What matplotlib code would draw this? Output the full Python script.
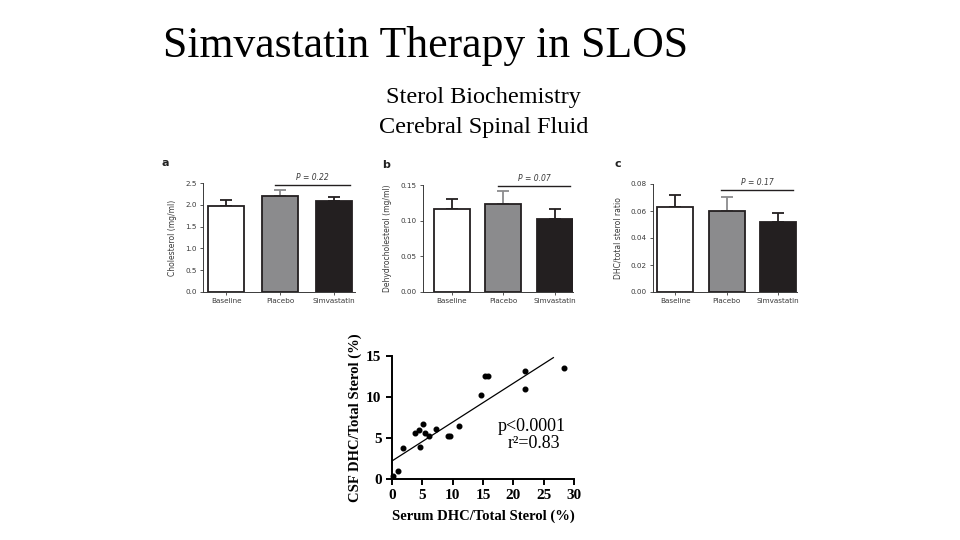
import matplotlib
matplotlib.use("Agg")
import matplotlib.pyplot as plt
import numpy as np

# ---- data ----
groups = ["Baseline", "Placebo", "Simvastatin"]
bar_colors = ["white", "#8b8b8d", "#231f20"]
err_colors = ["#231f20", "#8b8b8d", "#231f20"]

chol_mean = [1.98, 2.20, 2.08]
chol_err = [0.14, 0.15, 0.10]
dhc_mean = [0.117, 0.123, 0.103]
dhc_err = [0.014, 0.019, 0.013]
ratio_mean = [0.063, 0.0597, 0.0515]
ratio_err = [0.0092, 0.0106, 0.0067]

serum_pct = [0.16, 1.0, 1.75, 3.84, 4.39, 4.66, 5.1, 5.5, 6.1, 7.2, 9.16, 9.5,
             11.1, 14.6, 15.4, 15.8, 21.9, 21.9, 28.4]
csf_pct = [0.32, 1.0, 3.77, 5.67, 6.0, 3.9, 6.7, 5.67, 5.27, 6.1, 5.27, 5.19,
           6.5, 10.3, 12.57, 12.57, 13.2, 11.0, 13.5]
fit_x = [0.0, 26.6]
fit_y = [2.2, 14.8]

W, H = 960, 540
fig = plt.figure(figsize=(9.6, 5.4), dpi=100)


def box(left, bottom, width, height):
    # pixel box (top-left origin) -> figure fraction
    return [left / W, (H - bottom) / H, width / W, height / H]


def fx(x):
    return x / W


def fy(y):
    return 1 - y / H


fig.text(fx(426), fy(46), "Simvastatin Therapy in SLOS", family="Liberation Serif",
         fontsize=31.5, ha="center", va="center")
fig.text(fx(483), fy(98), "Sterol Biochemistry", family="Liberation Serif",
         fontsize=17.5, ha="center", va="center")
fig.text(fx(484), fy(127), "Cerebral Spinal Fluid", family="Liberation Serif",
         fontsize=17.5, ha="center", va="center")

gray = "#3a3a3a"
panels = [
    # letter, means, errs, ylim, yticks, fmt, ylabel, pval, p_y, axes box, xlim, width
    ("a", chol_mean, chol_err, 2.5, np.arange(0, 2.51, 0.5), "%.1f",
     "Cholesterol (mg/ml)", "P = 0.22", 2.45, box(203, 292, 152, 109), (-0.43, 2.39), 0.67),
    ("b", dhc_mean, dhc_err, 0.15, np.arange(0, 0.151, 0.05), "%.2f",
     "Dehydrocholesterol (mg/ml)", "P = 0.07", 0.149, box(423, 292, 150, 107), (-0.56, 2.35), 0.7),
    ("c", ratio_mean, ratio_err, 0.08, np.arange(0, 0.081, 0.02), "%.2f",
     "DHC/total sterol ratio", "P = 0.17", 0.0753, box(653, 292, 144, 108), (-0.43, 2.37), 0.7),
]

for letter, means, errs, top, ticks, fmt, ylabel, ptxt, py, rect, xlim, bw in panels:
    ax = fig.add_axes(rect)
    x = np.arange(len(groups))
    for i in range(len(groups)):
        ax.errorbar(x[i], means[i], yerr=[[0], [errs[i]]], fmt="none",
                    ecolor=err_colors[i], elinewidth=1.3, capsize=4, capthick=1.3, zorder=1)
    ax.bar(x, means, width=bw, color=bar_colors, edgecolor="#231f20",
           linewidth=1.3, zorder=2)
    ax.set_xlim(*xlim)
    ax.set_ylim(0, top)
    ax.set_yticks(ticks)
    ax.set_yticklabels([fmt % t for t in ticks])
    ax.set_xticks(x)
    ax.set_xticklabels(groups)
    ax.tick_params(labelsize=5.2, colors=gray, length=2, width=0.6, pad=2.5)
    ax.set_ylabel(ylabel, fontsize=5.5, color=gray, labelpad=6)
    for s in ["top", "right"]:
        ax.spines[s].set_visible(False)
    for s in ["left", "bottom"]:
        ax.spines[s].set_color(gray)
        ax.spines[s].set_linewidth(0.7)
    ax.plot([x[1] - 0.1, x[2] + 0.3], [py, py], color="#231f20", lw=1.0, clip_on=False)
    ax.text((x[1] + x[2]) / 2 + 0.1, py + top * 0.03, ptxt, fontsize=5.5, color=gray,
            style="italic", ha="center", va="bottom")
    ax.text(-0.27, 1.14, letter, transform=ax.transAxes, fontsize=8, fontweight="bold",
            color="#222222", ha="left", va="bottom")

# ---- correlation scatter ----
sx = fig.add_axes(box(392, 479, 182, 123))
sx.scatter(serum_pct, csf_pct, s=11, color="black", zorder=3, clip_on=False)
sx.plot(fit_x, fit_y, color="black", lw=0.9)
sx.set_xlim(0, 30)
sx.set_ylim(0, 15)
sx.set_xticks(np.arange(0, 31, 5))
sx.set_yticks(np.arange(0, 16, 5))
for s in ["top", "right"]:
    sx.spines[s].set_visible(False)
for s in ["left", "bottom"]:
    sx.spines[s].set_linewidth(1.4)
sx.tick_params(width=1.4, length=4)
for lab in sx.get_xticklabels() + sx.get_yticklabels():
    lab.set_family("Liberation Serif")
    lab.set_fontweight("bold")
    lab.set_fontsize(11)
sx.set_xlabel("Serum DHC/Total Sterol (%)", family="Liberation Serif",
              fontweight="bold", fontsize=10.5, labelpad=5)
sx.set_ylabel("CSF DHC/Total Sterol (%)", family="Liberation Serif",
              fontweight="bold", fontsize=10.5, labelpad=3)
sx.text(0.77, 0.43, "p<0.0001", transform=sx.transAxes, family="Liberation Serif",
        fontsize=13, ha="center", va="center")
sx.text(0.78, 0.29, "r\u00b2=0.83", transform=sx.transAxes, family="Liberation Serif",
        fontsize=13, ha="center", va="center")

fig.savefig("out.png", dpi=100)
